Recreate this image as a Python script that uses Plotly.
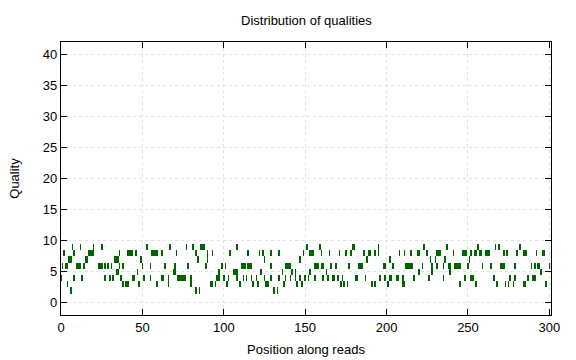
import plotly.graph_objects as go

# Positions (along reads) where each quality value occurs
positions = list(range(0, 301))
qualities = list(range(0, 42))

q2_positions = [6, 83, 85, 131, 133]
q3_positions = [4, 38, 40, 41, 48, 59, 66, 80, 92, 93, 95, 102, 110, 118, 121, 126, 127, 137,
                145, 148, 172, 174, 176, 191, 193, 201, 210, 211, 245, 255, 268, 273, 275, 278,
                284, 285, 298]
q4_positions = [0, 8, 13, 27, 30, 32, 37, 44, 45, 51, 55, 62, 63, 66, 72, 73, 74, 75, 76, 80, 96,
                97, 100, 103, 108, 112, 114, 117, 120, 125, 129, 134, 138, 141, 144, 147, 150,
                152, 156, 161, 164, 167, 168, 170, 173, 181, 182, 187, 196, 199, 202, 203, 206,
                207, 210, 217, 226, 235, 248, 252, 253, 266, 276, 279, 287, 290, 291]
q5_positions = [34, 35, 47, 69, 70, 97, 106, 107, 108, 123, 136, 142, 144, 153, 163, 220, 228,
                239, 295]
q6_positions = [1, 3, 4, 10, 11, 12, 14, 23, 24, 25, 27, 29, 31, 36, 38, 50, 55, 64, 70, 78, 89,
                99, 101, 111, 112, 113, 115, 116, 117, 129, 138, 139, 140, 141, 156, 157, 158,
                160, 161, 166, 169, 177, 183, 184, 185, 198, 199, 204, 212, 213, 214, 215, 216,
                222, 228, 231, 235, 238, 239, 242, 243, 244, 245, 250, 259, 264, 270, 271, 272,
                279, 289, 291, 293, 294, 300]
q7_positions = [5, 6, 15, 16, 33, 34, 35, 49, 84, 90, 125, 147, 188, 202, 227, 230, 236, 251]
q8_positions = [2, 8, 17, 18, 19, 20, 36, 41, 42, 43, 44, 46, 56, 57, 58, 59, 62, 71, 83, 90, 93,
                104, 115, 122, 124, 129, 134, 149, 153, 154, 155, 160, 165, 171, 175, 178, 186,
                189, 190, 193, 195, 208, 211, 215, 219, 220, 225, 231, 232, 233, 241, 247, 248,
                249, 252, 254, 255, 257, 258, 261, 262, 263, 272, 274, 280, 284, 285, 286, 292,
                296, 297]
q9_positions = [7, 12, 20, 25, 53, 67, 77, 81, 86, 87, 88, 108, 151, 159, 179, 180, 195, 223,
                237, 256, 267, 269, 282]

occurrences = {2: q2_positions, 3: q3_positions, 4: q4_positions, 5: q5_positions,
               6: q6_positions, 7: q7_positions, 8: q8_positions, 9: q9_positions}

z = [[None for _ in positions] for _ in qualities]
for q, plist in occurrences.items():
    for p in plist:
        z[q][p] = 1

fig = go.Figure(go.Heatmap(
    x=positions, y=qualities, z=z,
    colorscale=[[0, "#006400"], [1, "#006400"]],
    showscale=False, zmin=0, zmax=1, hoverongaps=False,
))

font = dict(family="Liberation Sans, Arial, sans-serif", size=12, color="#000000")
fig.update_layout(
    width=576, height=360,
    margin=dict(l=61, r=25, t=42, b=45),
    paper_bgcolor="white", plot_bgcolor="white",
    font=font,
    title=dict(text="Distribution of qualities", x=0.532, xanchor="center",
               y=1 - 20 / 360, yanchor="middle", font=dict(size=13)),
    showlegend=False,
)
fig.update_xaxes(
    range=[0, 301], tickvals=[0, 50, 100, 150, 200, 250, 300],
    ticks="inside", ticklen=6, tickcolor="black", mirror="allticks",
    showline=True, linecolor="black", linewidth=1.3,
    showgrid=True, gridcolor="#e2e2e2", griddash="dot", gridwidth=1,
    zeroline=False, tickfont=dict(size=13), automargin=False,
    title=dict(text="Position along reads", standoff=11, font=dict(size=13)),
)
fig.update_yaxes(
    range=[-2, 42], tickvals=[0, 5, 10, 15, 20, 25, 30, 35, 40],
    ticks="inside", ticklen=6, tickcolor="black", mirror="allticks",
    showline=True, linecolor="black", linewidth=1.3,
    showgrid=True, gridcolor="#e2e2e2", griddash="dot", gridwidth=1,
    zeroline=False, tickfont=dict(size=13), automargin=False,
    title=dict(text="Quality", standoff=20, font=dict(size=13)),
)

fig.write_html("out.html")
